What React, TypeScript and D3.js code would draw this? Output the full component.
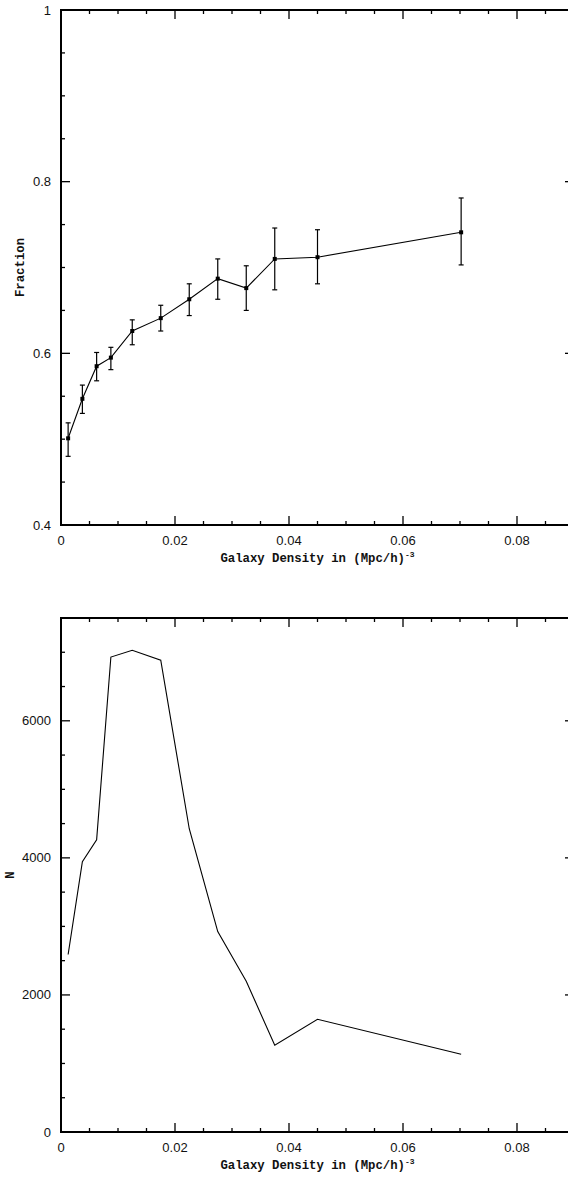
import * as d3 from 'd3';

// density bins (Mpc/h)^-3
const density = [0.00125, 0.00375, 0.00625, 0.00875, 0.0125, 0.0175, 0.0225, 0.0275, 0.0325, 0.0375, 0.045, 0.0702];
// fraction with error bars
const fraction = [0.501, 0.547, 0.585, 0.595, 0.626, 0.641, 0.663, 0.687, 0.676, 0.710, 0.712, 0.741];
const fracLo = [0.480, 0.530, 0.568, 0.581, 0.610, 0.626, 0.644, 0.663, 0.650, 0.674, 0.681, 0.703];
const fracHi = [0.519, 0.563, 0.601, 0.607, 0.639, 0.656, 0.681, 0.710, 0.702, 0.746, 0.744, 0.781];
// galaxy counts per bin
const counts = [2590, 3945, 4265, 6930, 7030, 6885, 4425, 2925, 2200, 1265, 1645, 1135];

const xMajor = [0, 0.02, 0.04, 0.06, 0.08];
const fracMajor = [0.4, 0.6, 0.8, 1];
const countMajor = [0, 2000, 4000, 6000];

const W = 568;
const H = 1178;
const left = 61;
const right = 574;
const tickFont = '"Liberation Sans", Arial, sans-serif';
const titleFont = '"Liberation Mono", "Courier New", monospace';

const x = d3.scaleLinear().domain([0, 0.09]).range([left, right]);
const xMinor = d3.range(0, 0.0901, 0.005);

function Frame({ y, yMajor, yMinor, fmt, top, bottom, ylabel, ylabelX }) {
  const ys = (v) => y(v);
  return (
    <g>
      {/* x ticks, bottom and top */}
      {xMinor.map((t, i) => {
        const major = xMajor.some((m) => Math.abs(m - t) < 1e-9);
        const len = major ? 9 : 4;
        return (
          <g key={'x' + i} stroke="#000" strokeWidth={1.3}>
            <line x1={x(t)} x2={x(t)} y1={bottom} y2={bottom - len} />
            <line x1={x(t)} x2={x(t)} y1={top} y2={top + len} />
          </g>
        );
      })}
      {yMinor.map((t, i) => {
        const major = yMajor.some((m) => Math.abs(m - t) < 1e-9);
        const len = major ? 9 : 4;
        return (
          <g key={'y' + i} stroke="#000" strokeWidth={1.3}>
            <line x1={left} x2={left + len} y1={ys(t)} y2={ys(t)} />
            <line x1={right} x2={right - len} y1={ys(t)} y2={ys(t)} />
          </g>
        );
      })}
      <rect x={left} y={top} width={right - left} height={bottom - top} fill="none" stroke="#000" strokeWidth={2} />
      {xMajor.map((t) => (
        <text key={'xl' + t} x={x(t)} y={bottom + 20} textAnchor="middle" fontFamily={tickFont} fontSize={13} fill="#111">
          {String(+t.toFixed(2))}
        </text>
      ))}
      {yMajor.map((t) => (
        <text key={'yl' + t} x={51} y={ys(t) + 4.5} textAnchor="end" fontFamily={tickFont} fontSize={13} fill="#111">
          {fmt(t)}
        </text>
      ))}
      <text x={(left + right) / 2} y={bottom + 37} textAnchor="middle" fontFamily={titleFont} fontWeight="bold" fontSize={12.3} fill="#111">
        Galaxy Density in (Mpc/h)
        <tspan fontSize={8} dy={-5}>-3</tspan>
      </text>
      <text transform={`translate(${ylabelX},${(top + bottom) / 2}) rotate(-90)`} textAnchor="middle" fontFamily={titleFont} fontWeight="bold" fontSize={12.3} fill="#111">
        {ylabel}
      </text>
    </g>
  );
}

export default function App() {
  const y1 = d3.scaleLinear().domain([0.4, 1]).range([525, 10]);
  const y2 = d3.scaleLinear().domain([0, 7500]).range([1132, 618]);

  const fracLine = d3.line().x((d) => x(d[0])).y((d) => y1(d[1]));
  const countLine = d3.line().x((d) => x(d[0])).y((d) => y2(d[1]));

  return (
    <svg width={W} height={H} style={{ position: 'absolute', left: 0, top: 0, background: '#fff' }}>
      <Frame
        y={y1}
        yMajor={fracMajor}
        yMinor={d3.range(0.4, 1.0001, 0.05)}
        fmt={(t) => String(+t.toFixed(1))}
        top={10}
        bottom={525}
        ylabel="Fraction"
        ylabelX={24}
      />
      <path d={fracLine(density.map((d, i) => [d, fraction[i]]))} fill="none" stroke="#000" strokeWidth={1.1} />
      {density.map((d, i) => (
        <g key={'e' + i} stroke="#000" strokeWidth={1.2}>
          <line x1={x(d)} x2={x(d)} y1={y1(fracLo[i])} y2={y1(fracHi[i])} />
          <line x1={x(d) - 2.5} x2={x(d) + 2.5} y1={y1(fracLo[i])} y2={y1(fracLo[i])} />
          <line x1={x(d) - 2.5} x2={x(d) + 2.5} y1={y1(fracHi[i])} y2={y1(fracHi[i])} />
          <rect x={x(d) - 2} y={y1(fraction[i]) - 2} width={4} height={4} fill="#000" stroke="none" />
        </g>
      ))}

      <Frame
        y={y2}
        yMajor={countMajor}
        yMinor={d3.range(0, 7501, 500)}
        fmt={(t) => String(t)}
        top={618}
        bottom={1132}
        ylabel="N"
        ylabelX={14}
      />
      <path d={countLine(density.map((d, i) => [d, counts[i]]))} fill="none" stroke="#000" strokeWidth={1.1} />
    </svg>
  );
}
